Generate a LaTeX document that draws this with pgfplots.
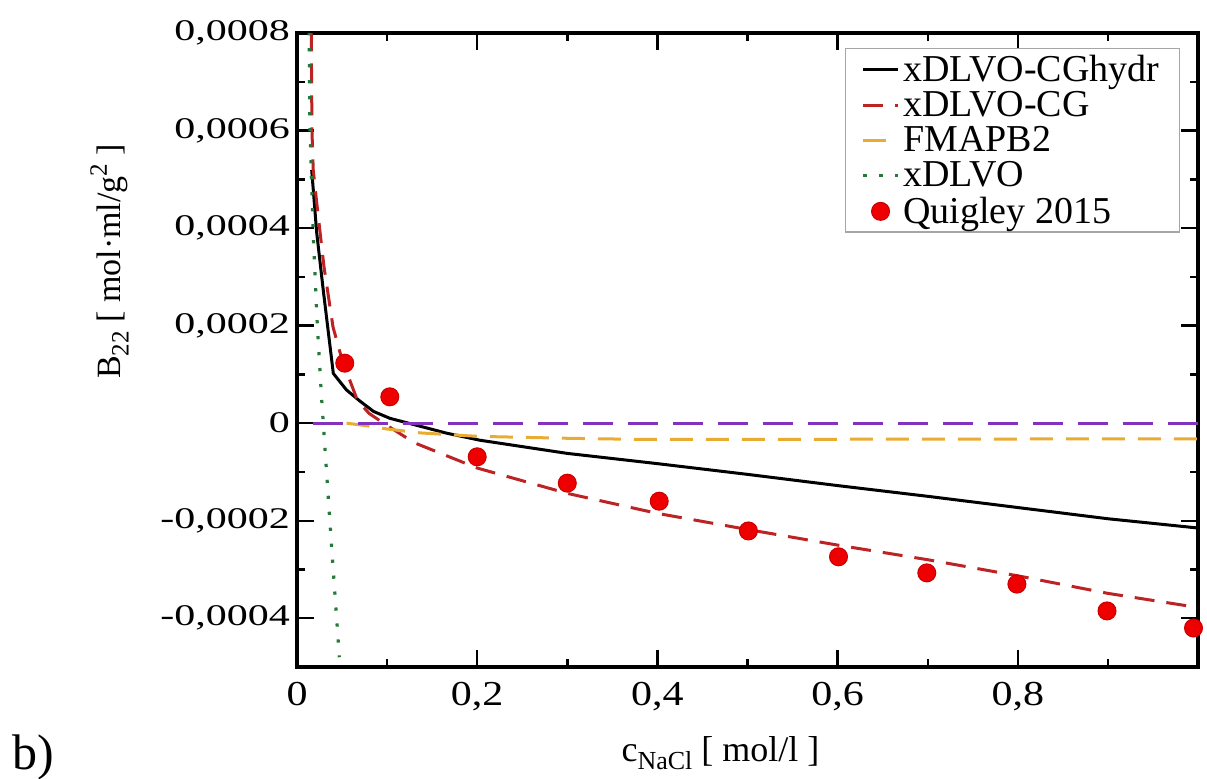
\documentclass[border=0pt]{standalone}
\usepackage{pgfplots}
\pgfplotsset{compat=1.18}
\usepackage{fontspec}
\setmainfont{Liberation Serif}
\newfontfamily\yfont[FakeStretch=1.4]{Liberation Serif}
\newfontfamily\xfont[FakeStretch=1.2]{Liberation Serif}
\definecolor{cgred}{RGB}{190,35,35}
\definecolor{fmorange}{RGB}{232,172,52}
\definecolor{dlvogreen}{RGB}{40,120,60}
\definecolor{zpurple}{RGB}{130,50,190}
\definecolor{ptred}{RGB}{238,0,0}

\begin{document}
\begin{tikzpicture}
\begin{axis}[
  name=ax,
  scale only axis,
  width=450.5pt, height=317pt,
  xmin=0, xmax=1, ymin=-0.0005, ymax=0.0008,
  xtick={0,0.2,0.4,0.6,0.8},
  xticklabels={0,{0,2},{0,4},{0,6},{0,8}},
  minor xtick={0.1,0.3,0.5,0.7,0.9},
  ytick={-0.0004,-0.0002,0,0.0002,0.0004,0.0006,0.0008},
  yticklabels={{-0,0004},{-0,0002},0,{0,0002},{0,0004},{0,0006},{0,0008}},
  minor ytick={-0.0003,-0.0001,0.0001,0.0003,0.0005,0.0007},
  scaled y ticks=false,
  major tick length=8.5pt, minor tick length=4pt,
  every tick/.style={black, line width=1.2pt},
  axis line style={line width=1.6pt},
  xticklabel style={font=\xfont\fontsize{17.5}{20}\selectfont, yshift=-4pt},
  yticklabel style={font=\yfont\fontsize{15}{18}\selectfont},
  xlabel={c\raisebox{-0.5ex}{\fontsize{13}{15}\selectfont NaCl} [ mol/l ]},
  xlabel style={font=\fontsize{18}{21}\selectfont, at={(ticklabel cs:0.47)}, yshift=-6pt},
  ylabel={B\raisebox{-0.5ex}{\fontsize{12.5}{14}\selectfont 22} [ mol·ml/g\raisebox{0.9ex}{\fontsize{12.5}{14}\selectfont 2} ]},
  ylabel style={font=\fontsize{17}{20}\selectfont, at={(ticklabel cs:0.64)}, yshift=9pt},
  clip mode=individual,
  legend style={at={(rel axis cs:0.98,0.976)}, anchor=north east,
    draw=gray!70, line width=0.6pt, font=\fontsize{19}{21}\selectfont,
    row sep=-0.5pt, inner xsep=8pt, inner ysep=1pt},
  legend cell align=left,
]
% xDLVO-CGhydr
\addplot[black, line width=1.5pt] coordinates {
  (0.0163,0.000519)(0.0219,0.00039)(0.029,0.000275)(0.0403,0.000102)
  (0.055,0.000068)(0.07,0.000045)(0.085,0.000024)(0.103,0.00001)
  (0.166,-0.0000205)(0.203,-0.000035)(0.3,-0.000062)(0.4,-0.000083)
  (0.5,-0.000105)(0.6,-0.000128)(0.7,-0.00015)(0.8,-0.000173)
  (0.9,-0.000196)(1.0,-0.000215)};
\addlegendentry{xDLVO-CGhydr}
% xDLVO-CG
\addplot[cgred, line width=1.5pt, dash pattern=on 10pt off 6pt] coordinates {
  (0.015,0.0010)(0.0166,0.0006)(0.018,0.00052)(0.022,0.00045)(0.03,0.00032)
  (0.04,0.000197)(0.05,0.00013)(0.067,0.000047)(0.08,0.00002)(0.096,0.0)
  (0.13,-0.00004)(0.2,-0.000092)(0.3,-0.000144)(0.4,-0.000185)(0.5,-0.000218)
  (0.6,-0.00025)(0.7,-0.00028)(0.8,-0.000313)(0.9,-0.000349)(1.0,-0.000378)};
\addlegendentry{xDLVO-CG}
% FMAPB2
\addplot[fmorange, line width=1.5pt, dash pattern=on 11.5pt off 6.5pt] coordinates {
  (0.055,0.0)(0.08,-0.000006)(0.1,-0.000012)(0.137,-0.00002)(0.2,-0.000027)
  (0.3,-0.000031)(0.37,-0.000033)(0.6,-0.000033)(1.0,-0.000032)};
\addlegendentry{FMAPB2}
% xDLVO
\addplot[dlvogreen, line width=1.6pt, dash pattern=on 1.6pt off 6.4pt] coordinates {
  (0.013,0.0009)(0.0144,0.0006)(0.016,0.0005)(0.018,0.00039)(0.022,0.00022)
  (0.027,0.00006)(0.0366,-0.000205)(0.047,-0.00048)};
\addlegendentry{xDLVO}
% zero line (no legend)
\addplot[zpurple, line width=1.5pt, dash pattern=on 15pt off 7.5pt, forget plot]
  coordinates {(0.018,0)(1.0,0)};
% Quigley 2015
\addplot[only marks, mark=*, mark size=4.5pt,
  mark options={fill=ptred, draw=ptred!85!black, line width=0.5pt}] coordinates {
  (0.053,0.000123)(0.103,0.000054)(0.2,-0.000069)(0.3,-0.000123)
  (0.402,-0.00016)(0.501,-0.000221)(0.601,-0.000274)(0.699,-0.000307)
  (0.799,-0.00033)(0.899,-0.000385)(0.995,-0.00042)};
\addlegendentry{Quigley 2015}
\end{axis}
\node[font=\fontsize{25}{28}\selectfont, anchor=center]
  at ([xshift=-132pt,yshift=-45pt]ax.south west) {b)};
\pgfresetboundingbox
\path[use as bounding box] ([xshift=-148.5pt,yshift=-55.5pt]ax.south west)
  rectangle ([xshift=4.5pt,yshift=16.5pt]ax.north east);
\end{tikzpicture}
\end{document}
